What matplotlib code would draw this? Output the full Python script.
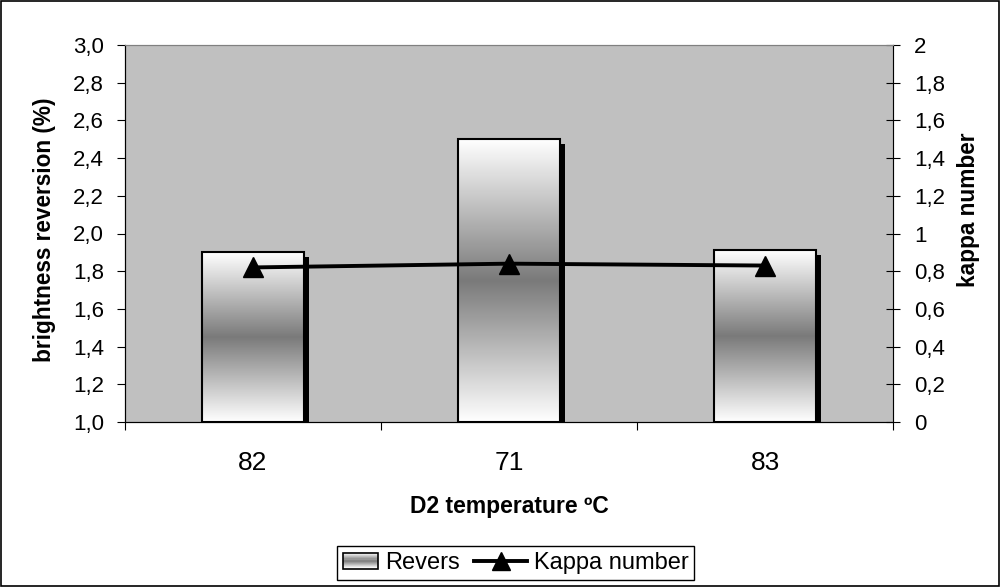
import matplotlib
matplotlib.use("Agg")
import matplotlib.pyplot as plt
import numpy as np
from matplotlib.colors import LinearSegmentedColormap
from matplotlib.patches import Rectangle
from matplotlib.lines import Line2D
from matplotlib.legend_handler import HandlerBase
import matplotlib.transforms as mtransforms

plt.rcParams['font.family'] = ['Liberation Sans', 'DejaVu Sans']

categories = ['82', '71', '83']
revers = [1.90, 2.50, 1.91]
kappa = [0.82, 0.84, 0.83]
y1_ticks = [1.0, 1.2, 1.4, 1.6, 1.8, 2.0, 2.2, 2.4, 2.6, 2.8, 3.0]
y1_labels = ['1,0', '1,2', '1,4', '1,6', '1,8', '2,0', '2,2', '2,4', '2,6', '2,8', '3,0']
y2_ticks = [0, 0.2, 0.4, 0.6, 0.8, 1.0, 1.2, 1.4, 1.6, 1.8, 2.0]
y2_labels = ['0', '0,2', '0,4', '0,6', '0,8', '1', '1,2', '1,4', '1,6', '1,8', '2']

W, H = 1000, 587
fig = plt.figure(figsize=(10, 5.87), dpi=100)
fig.patch.set_facecolor('white')
fig.patches.append(Rectangle((0.0005, 0.001), 0.998, 0.997, transform=fig.transFigure,
                             fill=False, edgecolor='black', lw=1.2))

ax1 = fig.add_axes([0.125, 1 - 422 / H, 0.768, (422 - 45) / H])
ax1.set_facecolor('#C0C0C0')
x = np.arange(len(categories))
w = 0.4

cmap = LinearSegmentedColormap.from_list('cyl', ['#FFFFFF', '#7A7A7A', '#FFFFFF'])
grad = np.linspace(0, 1, 256).reshape(-1, 1)

# shadows
shadow_tr = mtransforms.offset_copy(ax1.transData, fig=fig, x=5, y=-5, units='dots')
ax1.bar(x, [v - 1.0 for v in revers], bottom=1.0, width=w, color='black',
        transform=shadow_tr, zorder=1, clip_on=True)
for xi, v in zip(x, revers):
    ax1.imshow(grad, cmap=cmap, aspect='auto', extent=[xi - w / 2, xi + w / 2, 1.0, v],
               zorder=2, interpolation='bilinear')
ax1.bar(x, [v - 1.0 for v in revers], bottom=1.0, width=w, facecolor='none',
        edgecolor='black', lw=1.5, zorder=3)
ax1.set_xlim(-0.5, len(categories) - 0.5)
ax1.set_ylim(1.0, 3.0)

ax1.set_yticks(y1_ticks)
ax1.set_yticklabels(y1_labels, fontsize=16)
ax1.set_xticks(np.arange(-0.5, len(categories), 1.0))
ax1.set_xticklabels([''] * (len(categories) + 1))
ax1.set_xticks(x, minor=True)
ax1.set_xticklabels(categories, minor=True, fontsize=19)
ax1.tick_params(axis='x', which='major', length=6, direction='out', width=0.8)
ax1.tick_params(axis='x', which='minor', length=0, pad=21)
ax1.tick_params(axis='y', length=6, direction='out', width=0.8, pad=9)
ax1.set_xlabel('D2 temperature ºC', fontsize=16.5, fontweight='bold')
ax1.xaxis.label.set_va('baseline')
ax1.xaxis.set_label_coords(0.5, (422 - 513) / 377)
ax1.set_ylabel('brightness reversion (%)', fontsize=16.3, fontweight='bold')
ax1.yaxis.label.set_va('center')
ax1.yaxis.set_label_coords((45 - 125) / 768, (422 - 230) / 377)
for s in ['left', 'bottom']:
    ax1.spines[s].set_color('black')
ax1.spines['top'].set_color('#808080')
ax1.spines['right'].set_color('#808080')

ax2 = ax1.twinx()
ax2.set_ylim(0, 2.0)
ax2.plot(x, kappa, color='black', lw=2.8, marker='^', markersize=14, zorder=5)
ax2.set_yticks(y2_ticks)
ax2.set_yticklabels(y2_labels, fontsize=16)
ax2.tick_params(axis='y', length=10, direction='inout', width=0.8, pad=10)
ax2.set_ylabel('kappa number', fontsize=16.3, fontweight='bold')
ax2.yaxis.label.set_va('center')
ax2.yaxis.set_label_coords((968 - 125) / 768, (422 - 210) / 377)
ax2.spines['right'].set_color('black')
ax2.spines['top'].set_color('#808080')


class GradientHandler(HandlerBase):
    def create_artists(self, legend, orig_handle, xdescent, ydescent, width, height, fontsize, trans):
        arts = []
        n = 14
        rw = width * 0.66
        x0 = -xdescent + width - rw
        for i in range(n):
            c = cmap((i + 0.5) / n)
            r = Rectangle((x0, -ydescent + height * i / n), rw, height / n + 0.3,
                          facecolor=c, edgecolor='none', transform=trans)
            arts.append(r)
        arts.append(Rectangle((x0, -ydescent), rw, height, facecolor='none',
                              edgecolor='black', lw=1.2, transform=trans))
        return arts


bar_handle = Rectangle((0, 0), 1, 1)
line_handle = Line2D([], [], color='black', lw=2.8, marker='^', markersize=13)
leg_fs = 17
leg = fig.legend([bar_handle, line_handle], ['Revers', 'Kappa number'],
                 handler_map={Rectangle: GradientHandler()},
                 loc='center left', bbox_to_anchor=(325 / W, 1 - 563 / H), ncol=2,
                 frameon=False, fontsize=leg_fs,
                 handlelength=2.25, handleheight=0.65, handletextpad=0.3, columnspacing=0.6,
                 borderpad=0.0, borderaxespad=0)

fig.canvas.draw()
bb = leg.get_window_extent()
x_right = bb.x1 + 5
frame = Rectangle((337 / W, 1 - 580 / H), (x_right - 337) / W, 34 / H,
                  transform=fig.transFigure, fill=False, edgecolor='black', lw=1.0)
fig.patches.append(frame)

fig.savefig('out.png', dpi=100)
